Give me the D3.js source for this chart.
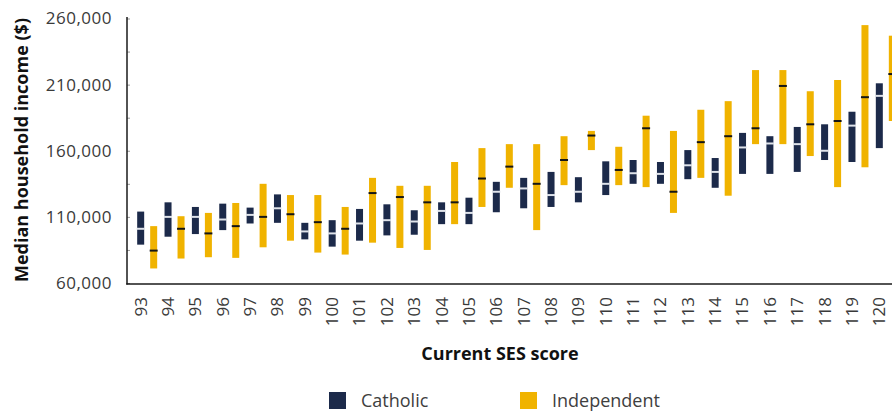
<!DOCTYPE html>
<html>
<head>
<meta charset="utf-8">
<script src="https://cdn.jsdelivr.net/npm/d3@7"></script>
<style>
  body { margin: 0; background: #fff; }
  svg { display: block; font-family: "Open Sans", sans-serif; }
</style>
</head>
<body>
<svg id="chart" width="892" height="413"></svg>
<script>
const categories = d3.range(93, 121).map(String);

// Catholic schools: low / median / high ($)
const catholicLow = [89000, 95000, 97000, 100000, 105000, 105500, 93000, 87500, 92000, 96000, 96500, 104500, 104500, 113500,
  116500, 117500, 121000, 126500, 135000, 135000, 138500, 132000, 142500, 142500, 144000, 153000, 151500, 162000];
const catholicMedian = [101000, 110000, 110000, 108000, 111500, 116500, 99000, 97500, 105000, 107500, 106500, 114500, 113000, 129000,
  131500, 126500, 129000, 135000, 143000, 142500, 149000, 144000, 162500, 165500, 165000, 160000, 179000, 201500];
const catholicHigh = [114000, 121000, 117500, 120000, 117000, 127000, 105500, 107500, 116000, 119500, 115000, 121000, 124500, 136500,
  139500, 144000, 140000, 152000, 153000, 151500, 160500, 154500, 173500, 171000, 178000, 180000, 189500, 211000];

// Independent schools: low / median / high ($)
const independentLow = [71000, 78500, 79500, 79000, 87000, 92000, 83000, 81500, 90500, 86500, 85000, 104500, 117500, 132000,
  100000, 134000, 160500, 134000, 132500, 113000, 139500, 126000, 165000, 165000, 156000, 132500, 147500, 182500];
const independentMedian = [84500, 101000, 97500, 103000, 110000, 112000, 106000, 101000, 128000, 125000, 121000, 121000, 139000, 148000,
  135000, 153000, 171500, 145500, 177000, 129000, 166500, 171000, 177000, 209000, 180000, 182500, 200500, 218000];
const independentHigh = [103000, 110500, 113000, 120500, 135000, 126500, 126500, 117500, 139500, 133500, 133500, 151500, 162000, 165000,
  165000, 171000, 175000, 163000, 186500, 175000, 191000, 197500, 221000, 221000, 205000, 213500, 255000, 247000];

const sectors = ["Catholic", "Independent"];
const colors = { Catholic: "#1c2a4a", Independent: "#f0b300" };
const medianColors = { Catholic: "#dfe3ea", Independent: "#151515" };

const yTicks = d3.range(60000, 260001, 25000);
const yLabels = d3.range(60000, 260001, 50000);

const rows = [];
categories.forEach((c, i) => {
  rows.push({ cat: c, sector: "Catholic", low: catholicLow[i], median: catholicMedian[i], high: catholicHigh[i] });
  rows.push({ cat: c, sector: "Independent", low: independentLow[i], median: independentMedian[i], high: independentHigh[i] });
});

const svg = d3.select("#chart");
const plotLeft = 127, plotRight = 893, plotBottom = 283, plotTop = 18.5;

const x0 = d3.scaleBand().domain(categories).range([plotLeft, plotRight]);
const half = x0.bandwidth() / 2;
// two 7px bars, 13px apart, the first one centred on the tick
const x1 = d3.scaleBand().domain(sectors).range([half - 3.5, half + 16.5]).paddingInner(6 / 13);
const y = d3.scaleLinear().domain([60000, 260000]).range([plotBottom, plotTop]);

// bars
const bars = svg.append("g").attr("class", "bars")
  .selectAll("g.bar")
  .data(rows)
  .join("g")
  .classed("bar", true)
  .attr("transform", d => `translate(${x0(d.cat) + x1(d.sector)},0)`);

bars.append("rect")
  .attr("x", 0)
  .attr("y", d => y(d.high))
  .attr("width", x1.bandwidth())
  .attr("height", d => y(d.low) - y(d.high))
  .attr("fill", d => colors[d.sector]);

bars.append("line")
  .attr("x1", -0.5)
  .attr("x2", x1.bandwidth() + 0.5)
  .attr("y1", d => y(d.median))
  .attr("y2", d => y(d.median))
  .attr("stroke", d => medianColors[d.sector])
  .attr("stroke-width", 2);

// y axis: small inner ticks every 25k, labels every 50k
svg.append("g")
  .attr("transform", `translate(${plotLeft},0)`)
  .call(d3.axisRight(y).tickValues(yTicks).tickSize(3).tickFormat(""))
  .call(g => g.select(".domain").remove())
  .call(g => g.selectAll(".tick line").attr("stroke", "#999"));

svg.append("g")
  .attr("transform", `translate(${plotLeft},0)`)
  .call(d3.axisLeft(y).tickValues(yLabels).tickSize(0).tickPadding(15).tickFormat(d3.format(",")))
  .call(g => g.select(".domain").remove())
  .call(g => g.selectAll("text")
    .attr("font-family", "'Open Sans', sans-serif")
    .attr("font-size", 17)
    .attr("letter-spacing", 0.5)
    .attr("fill", "#3a3a3a"));

svg.append("line")
  .attr("x1", plotLeft).attr("x2", plotLeft)
  .attr("y1", 17).attr("y2", 284.5)
  .attr("stroke", "#1a1a1a").attr("stroke-width", 1.5);

// x axis
svg.append("line")
  .attr("x1", plotLeft - 0.75).attr("x2", 892)
  .attr("y1", 284).attr("y2", 284)
  .attr("stroke", "#1a1a1a").attr("stroke-width", 1.5);

svg.append("g").attr("class", "xlabels")
  .selectAll("text")
  .data(categories)
  .join("text")
  .attr("transform", d => `translate(${x0(d) + half},297) rotate(-90)`)
  .attr("text-anchor", "end")
  .attr("dy", "0.35em")
  .attr("font-size", 17)
  .attr("fill", "#3a3a3a")
  .text(d => d);

// titles
svg.append("text")
  .attr("transform", "translate(28,150) rotate(-90)")
  .attr("text-anchor", "middle")
  .attr("font-size", 18)
  .attr("font-weight", "bold")
  .attr("fill", "#111")
  .text("Median household income ($)");

svg.append("text")
  .attr("x", 500)
  .attr("y", 360)
  .attr("text-anchor", "middle")
  .attr("font-size", 18)
  .attr("font-weight", "bold")
  .attr("fill", "#111")
  .text("Current SES score");

// legend
const legend = svg.append("g")
  .selectAll("g")
  .data(sectors)
  .join("g")
  .attr("transform", (d, i) => `translate(${[329, 520][i]},392)`);

legend.append("rect")
  .attr("width", 17)
  .attr("height", 17)
  .attr("fill", d => colors[d]);

legend.append("text")
  .attr("x", 32)
  .attr("y", 15)
  .attr("font-size", 18)
  .attr("fill", "#404040")
  .text(d => d);
</script>
</body>
</html>
